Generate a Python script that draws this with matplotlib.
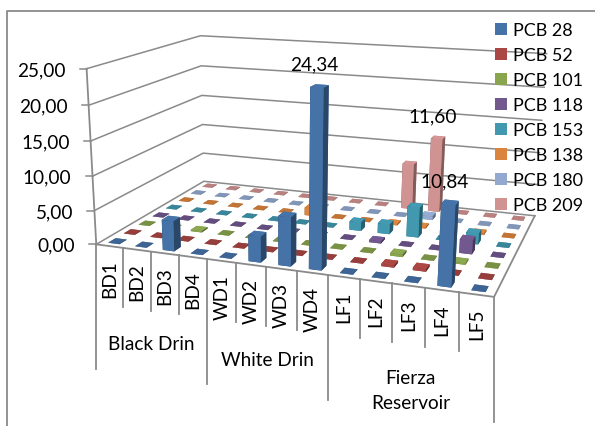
import numpy as np
import matplotlib
matplotlib.use("Agg")
import matplotlib.pyplot as plt
from matplotlib.patches import Patch
from mpl_toolkits.mplot3d import Axes3D  # noqa

plt.rcParams['font.family'] = ['Lato', 'DejaVu Sans']

categories = ["BD1", "BD2", "BD3", "BD4", "WD1", "WD2", "WD3", "WD4",
              "LF1", "LF2", "LF3", "LF4", "LF5"]
groups = ["Black Drin", "White Drin", "Fierza\nReservoir"]
group_sizes = [4, 4, 5]
series_names = ["PCB 28", "PCB 52", "PCB 101", "PCB 118", "PCB 153", "PCB 138", "PCB 180", "PCB 209"]
colors = ["#4572A7", "#AA4643", "#89A54E", "#71588F", "#4198AF", "#DB843D", "#93A9CF", "#D19392"]
ytick_values = [0, 5, 10, 15, 20, 25]

pcb28 = [0.05, 0.05, 4.4, 0.05, 0.05, 3.7, 6.9, 24.34, 0.05, 0.05, 0.05, 10.84, 0.05]
pcb52 = [0.05, 0.05, 0.05, 0.05, 0.05, 0.05, 0.05, 0.05, 0.05, 0.3, 0.35, 0.05, 0.05]
pcb101 = [0.05, 0.05, 0.2, 0.05, 0.05, 0.05, 0.05, 0.05, 0.05, 0.35, 0.05, 0.2, 0.05]
pcb118 = [0.05, 0.05, 0.05, 0.05, 0.05, 0.05, 0.05, 0.05, 0.3, 0.05, 0.05, 2.0, 0.05]
pcb153 = [0.05, 0.05, 0.05, 0.05, 0.05, 0.05, 0.05, 1.3, 1.5, 4.5, 0.05, 1.6, 0.05]
pcb138 = [0.05, 0.05, 0.05, 0.05, 0.05, 1.2, 0.05, 0.05, 0.2, 0.2, 0.05, 0.2, 0.05]
pcb180 = [0.05, 0.05, 0.05, 0.05, 0.05, 0.05, 0.05, 0.05, 0.05, 0.6, 0.05, 0.05, 0.05]
pcb209 = [0.05, 0.05, 0.05, 0.05, 0.05, 0.05, 0.05, 0.05, 7.2, 11.6, 0.05, 0.05, 0.05]
series = [pcb28, pcb52, pcb101, pcb118, pcb153, pcb138, pcb180, pcb209]
labelled = {(7, 0): "24,34", (9, 7): "11,60", (11, 0): "10,84"}

W, H = 595, 427
n_cat, n_ser, z_max = len(categories), len(series), 25.0
GRID = "#8a8a8a"
FS = 13.7
FS_LEG = 13

# camera: fit a projective map from chart space to image pixels
front_l = [(87, 70), (89, 106), (90, 142), (92, 177), (94, 212), (97, 245)]
back_l = [(200, 37), (201, 67), (202, 96), (203, 125), (204, 154), (203, 183)]
back_r = [(547, 54), (544, 89), (542, 122), (539, 153), (537, 185), (535, 217)]
corr = []
for k in range(6):
    zz = 25 - 5 * k
    corr += [((0, 0, zz), front_l[k]), ((0, n_ser, zz), back_l[k]), ((n_cat, n_ser, zz), back_r[k])]
corr += [((n_cat, 0, 0), (494, 298)), ((4, 0, 0), (207, 260)), ((8, 0, 0), (328, 276))]
A = []
for (X, Y, Z), (u, v) in corr:
    A.append([X, Y, Z, 1, 0, 0, 0, 0, -u * X, -u * Y, -u * Z, -u])
    A.append([0, 0, 0, 0, X, Y, Z, 1, -v * X, -v * Y, -v * Z, -v])
scale = np.array([n_cat, n_ser, z_max, 1])
A = np.array(A, float) / np.r_[scale, scale, scale * 400]
P = (np.linalg.svd(A)[2][-1] / np.r_[scale, scale, scale * 400]).reshape(3, 4)
if P[2, 3] < 0:
    P = -P
P = P / P[2, 3]
M4 = np.array([P[0], P[1], [0, 0, 0, -1.0], P[2]])


def px(x, y, z):
    p = P @ np.array([x, y, z, 1.0])
    return p[0] / p[2], p[1] / p[2]


fig = plt.figure(figsize=(W / 100, H / 100), dpi=100)

# underlay: chart walls and floor lines, in pixel space
und = fig.add_axes([0, 0, 1, 1], zorder=0)
und.set_xlim(0, W)
und.set_ylim(H, 0)
und.axis("off")
for zv in ytick_values:
    pts = np.array([px(0, 0, zv), px(0, n_ser, zv), px(n_cat, n_ser, zv)])
    und.plot(pts[:, 0], pts[:, 1], color=GRID, lw=1.1)
pts = np.array([px(0, 0, 0), px(0, 0, z_max)])
und.plot(pts[:, 0], pts[:, 1], color=GRID, lw=1.3)
pts = np.array([px(0, 0, 0), px(n_cat, 0, 0), px(n_cat, n_ser, 0)])
und.plot(pts[:, 0], pts[:, 1], color=GRID, lw=1.3)

ax = fig.add_axes([0, 0, 1, 1], projection="3d", computed_zorder=False, zorder=1)
ax.set_axis_off()
ax.patch.set_visible(False)
ax.get_proj = lambda: M4
ax.apply_aspect = lambda position=None: None


def shade(c, f):
    rgb = np.array(matplotlib.colors.to_rgb(c)) * f
    return tuple(np.clip(rgb, 0, 1))


order = 2
bw = 0.41
bd = 0.46
for j in range(n_ser - 1, -1, -1):
    for i in range(n_cat):
        c = colors[j]
        top = shade(c, 0.88) if series[j][i] < 0.1 else shade(c, 1.02)
        faces = [shade(c, .8), top, c, c, shade(c, .6), shade(c, .62)]
        ax.bar3d(i + (1 - bw) / 2, j + (1 - bd) / 2, 0, bw, bd, series[j][i],
                 color=faces, shade=False, linewidth=0, zorder=order)
        order += 1
ax.set_xlim(0, n_cat)
ax.set_ylim(0, n_ser)
ax.set_zlim(0, z_max)
ax.viewLim.intervalx = (0, W)
ax.viewLim.intervaly = (H, 0)

# overlay: text, ticks, separators, in pixel space
ov = fig.add_axes([0, 0, 1, 1], zorder=5)
ov.set_xlim(0, W)
ov.set_ylim(H, 0)
ov.axis("off")
ov.plot([7, 7, W], [H, 12, 12], color=GRID, lw=1.3)

for zv in ytick_values:
    x0, y0 = px(0, 0, zv)
    ov.plot([x0 - 7, x0], [y0, y0], color=GRID, lw=1.1)
    ov.text(x0 - 21, y0 + 1, f"{zv:.2f}".replace(".", ","), ha="right", va="center", fontsize=FS)

group_edges = np.cumsum([0] + group_sizes)
for i in range(n_cat + 1):
    x0, y0 = px(i, 0, 0)
    length = 125 if i in group_edges else 59
    ov.plot([x0, x0], [y0, y0 + length], color=GRID, lw=1.3)
for i, lab in enumerate(categories):
    x0, y0 = px(i + 0.5, 0, 0)
    ov.text(x0, y0 + 13, lab, rotation=90, ha="center", va="top", fontsize=FS)
for g, lab in enumerate(groups):
    xa, ya = px(group_edges[g], 0, 0)
    xb, yb = px(group_edges[g + 1], 0, 0)
    ov.text((xa + xb) / 2, (ya + yb) / 2 + {0: 92, 1: 93, 2: 104}[g], lab, ha="center", va="center",
            fontsize=FS, linespacing=1.55)

for (i, j), s in labelled.items():
    xt, yt = px(i + 0.5, j + 0.5, series[j][i])
    ov.text(xt - 5, yt - 22, s, ha="center", va="center", fontsize=FS)

handles = [Patch(facecolor=c, edgecolor="none") for c in colors]
ov.legend(handles, series_names, loc="upper left", bbox_to_anchor=(495 / W, 1 - 23 / H),
          frameon=False, fontsize=FS_LEG, borderpad=0, borderaxespad=0, handlelength=0.66,
          handleheight=0.66, handletextpad=0.33, labelspacing=0.5)

fig.savefig("out.png", dpi=100)
